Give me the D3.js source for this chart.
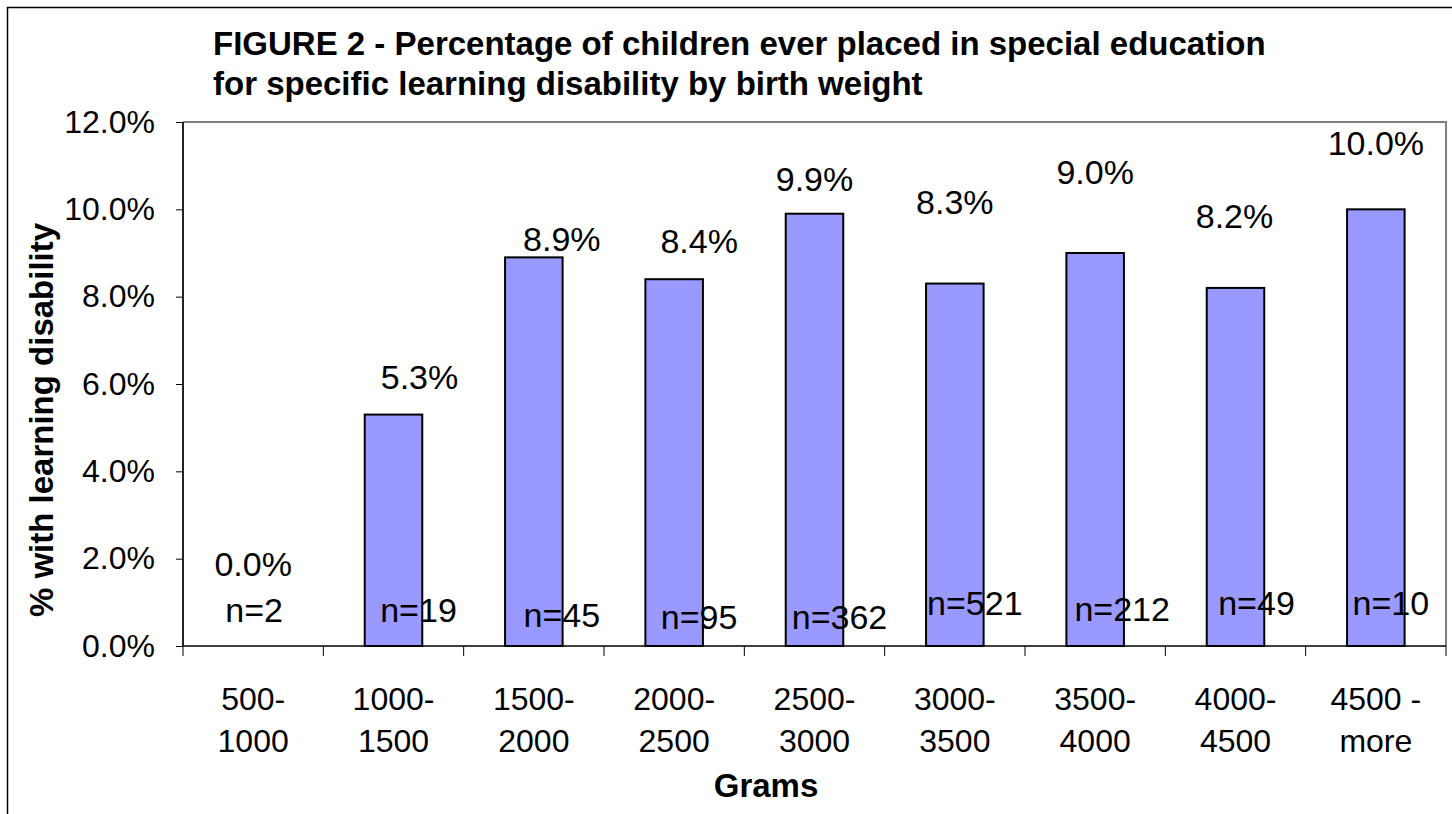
<!DOCTYPE html>
<html>
<head>
<meta charset="utf-8">
<style>
    body { margin: 0; background: #fff; }
    svg { display: block; font-family: 'Liberation Sans', Arial, sans-serif; }
    .title { font-size: 33px; font-weight: bold; }
    .axis-title { font-size: 33px; font-weight: bold; }
    .y .tick text { font-size: 32px; fill: #000; }
    .y .tick line { stroke: #000; }
    .y .domain { display: none; }
    .xlab { font-size: 32px; }
    .val, .nlab { font-size: 34px; }
</style>
</head>
<body>
<svg width="1452" height="814"></svg>
<script src="https://d3js.org/d3.v7.min.js"></script>
<script>
    // data
    const categories = [["500-", "1000"], ["1000-", "1500"], ["1500-", "2000"], ["2000-", "2500"],
        ["2500-", "3000"], ["3000-", "3500"], ["3500-", "4000"], ["4000-", "4500"], ["4500 -", "more"]];
    const pctLD = [0.000, 0.053, 0.089, 0.084, 0.099, 0.083, 0.090, 0.082, 0.100];
    const nChildren = [2, 19, 45, 95, 362, 521, 212, 49, 10];
    const yTicks = [0, 0.02, 0.04, 0.06, 0.08, 0.10, 0.12];

    // label nudges (px) as placed by hand in the original
    const valNudge = [[0, -70], [26, -26], [28, -6], [25, -26], [0, -23], [0, -70], [0, -69], [-1, -60], [0, -54]];
    const nNudge = [[1, -24], [25, -24], [28, -19], [25, -17], [25, -17], [20, -31], [27, -25], [21, -31], [15, -31]];

    const svg = d3.select("svg");
    const margin = { top: 122, right: 6, bottom: 168, left: 183 };
    const width = 1452, height = 814;
    const keys = categories.map((d, i) => i);

    // outer frame
    svg.append("rect")
        .attr("x", 7.5).attr("y", 7.5)
        .attr("width", 1470).attr("height", 830)
        .attr("fill", "none").attr("stroke", "#000").attr("stroke-width", 1.5);

    let x = d3.scaleBand()
        .domain(keys)
        .range([margin.left, width - margin.right])
        .padding(0);

    let xBar = d3.scaleBand()
        .domain(keys)
        .range([margin.left, width - margin.right])
        .paddingInner(0.59)
        .paddingOuter(0.295);

    let y = d3.scaleLinear()
        .domain([0, 0.12])
        .range([height - margin.bottom, margin.top]);

    const x0 = margin.left, x1 = width - margin.right;
    const yb = y(0), yt = y(0.12);

    // plot area frame (top / right grey)
    svg.append("path")
        .attr("d", `M${x0},${yt}H${x1}V${yb}`)
        .attr("fill", "none").attr("stroke", "#808080").attr("stroke-width", 2);

    // y axis
    let yAxis = d3.axisLeft(y)
        .tickValues(yTicks)
        .tickFormat(d3.format(".1%"))
        .tickSize(7)
        .tickPadding(21);

    svg.append("g")
        .attr("class", "y axis")
        .attr("transform", `translate(${x0},0)`)
        .call(yAxis);

    svg.append("line")
        .attr("x1", x0).attr("x2", x0).attr("y1", yt).attr("y2", yb)
        .attr("stroke", "#222").attr("stroke-width", 2);

    // bars
    svg.append("g")
        .selectAll("rect")
        .data(keys)
        .join("rect")
        .attr("x", i => xBar(i))
        .attr("width", xBar.bandwidth())
        .attr("y", i => y(pctLD[i]))
        .attr("height", i => yb - y(pctLD[i]))
        .attr("fill", "#9999ff")
        .attr("stroke", i => pctLD[i] > 0 ? "#000" : "none")
        .attr("stroke-width", 2);

    // x axis line + ticks at category boundaries
    svg.append("line")
        .attr("x1", x0).attr("x2", x1).attr("y1", yb).attr("y2", yb)
        .attr("stroke", "#000").attr("stroke-width", 1.5);

    svg.append("g")
        .selectAll("line")
        .data(keys.concat([keys.length]))
        .join("line")
        .attr("x1", i => i < keys.length ? x(i) : x1)
        .attr("x2", i => i < keys.length ? x(i) : x1)
        .attr("y1", yb)
        .attr("y2", yb + 10)
        .attr("stroke", "#000").attr("stroke-width", 1);

    // category labels (two lines)
    let xl = svg.append("g")
        .selectAll("text")
        .data(keys)
        .join("text")
        .attr("class", "xlab")
        .attr("text-anchor", "middle");
    xl.append("tspan")
        .attr("x", i => x(i) + x.bandwidth() / 2)
        .attr("y", yb + 64)
        .text(i => categories[i][0]);
    xl.append("tspan")
        .attr("x", i => x(i) + x.bandwidth() / 2)
        .attr("y", yb + 106)
        .text(i => categories[i][1]);

    // value labels
    svg.append("g")
        .selectAll("text")
        .data(keys)
        .join("text")
        .attr("class", "val")
        .attr("text-anchor", "middle")
        .attr("x", i => x(i) + x.bandwidth() / 2 + valNudge[i][0])
        .attr("y", i => y(pctLD[i]) + valNudge[i][1])
        .text(i => d3.format(".1%")(pctLD[i]));

    // n labels
    svg.append("g")
        .selectAll("text")
        .data(keys)
        .join("text")
        .attr("class", "nlab")
        .attr("text-anchor", "middle")
        .attr("x", i => x(i) + x.bandwidth() / 2 + nNudge[i][0])
        .attr("y", i => yb + nNudge[i][1])
        .text(i => "n=" + nChildren[i]);

    // titles
    svg.append("text")
        .attr("class", "title")
        .attr("x", 213).attr("y", 55)
        .text("FIGURE 2 - Percentage of children ever placed in special education");
    svg.append("text")
        .attr("class", "title")
        .attr("x", 213).attr("y", 95)
        .text("for specific learning disability by birth weight");

    svg.append("text")
        .attr("class", "axis-title")
        .attr("text-anchor", "middle")
        .attr("transform", "translate(53,420) rotate(-90)")
        .text("% with learning disability");

    svg.append("text")
        .attr("class", "axis-title")
        .attr("text-anchor", "middle")
        .attr("x", 766).attr("y", 797)
        .text("Grams");
</script>
</body>
</html>
